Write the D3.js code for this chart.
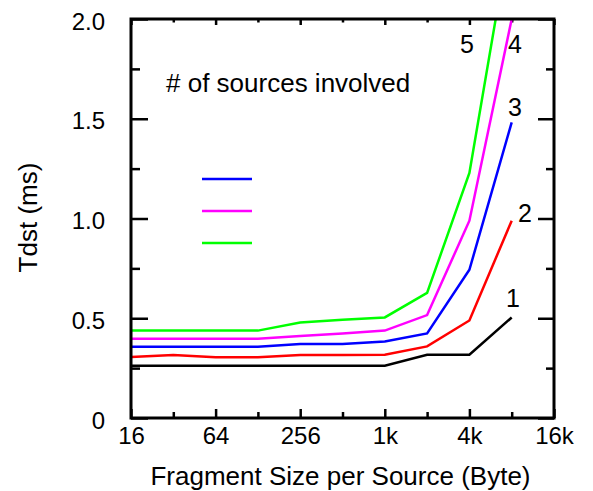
<!DOCTYPE html>
<html>
<head>
<meta charset="utf-8">
<script src="https://cdn.jsdelivr.net/npm/d3@7"></script>
<style>
  body { margin: 0; background: #fff; }
  svg text { font-family: "Liberation Sans", Arial, Helvetica, sans-serif; fill: #000; }
</style>
</head>
<body>
<svg id="chart" width="593" height="491"></svg>
<script>
// fragment size per source (bytes), log2 axis
const sizes = [16, 32, 64, 128, 256, 512, 1024, 2048, 4096, 8192];

// Tdst (ms) for 1..5 sources
const src1 = [0.262, 0.262, 0.262, 0.262, 0.262, 0.262, 0.262, 0.317, 0.317, 0.504];
const src2 = [0.306, 0.316, 0.304, 0.304, 0.316, 0.316, 0.317, 0.359, 0.489, 0.989];
const src3 = [0.357, 0.357, 0.357, 0.357, 0.371, 0.371, 0.384, 0.424, 0.743, 1.482];
const src4 = [0.397, 0.397, 0.397, 0.397, 0.411, 0.423, 0.438, 0.516, 0.989, 2.0];
const src5 = [0.438, 0.438, 0.438, 0.438, 0.479, 0.493, 0.504, 0.627, 1.228, 2.47];

const seriesNames = ["1", "2", "3", "4", "5"];
const seriesColors = ["#000000", "#ff0000", "#0000ff", "#ff00ff", "#00ff00"];

const xMajor = [16, 64, 256, 1024, 4096, 16384];
const xMajorLabels = ["16", "64", "256", "1k", "4k", "16k"];
const xMinor = [32, 128, 512, 2048, 8192];
const yMajor = [0, 0.5, 1.0, 1.5, 2.0];
const yMinor = [0.25, 0.75, 1.25, 1.75];

// legend shows only these (no text labels in the original)
const legendSeries = [2, 3, 4];

const svg = d3.select("#chart");
const pLeft = 131, pRight = 554, pTop = 19, pBottom = 418;

const x = d3.scaleLog().base(2).domain([16, 16384]).range([pLeft, pRight]);
const y = d3.scaleLinear().domain([0, 2]).range([pBottom, pTop]);

svg.append("defs").append("clipPath").attr("id", "plot-clip")
  .append("rect")
  .attr("x", pLeft).attr("y", pTop)
  .attr("width", pRight - pLeft).attr("height", pBottom - pTop);

// ---------- axes ----------
function styleAxis(g) {
  g.select(".domain").remove();
  g.selectAll(".tick line").attr("stroke", "#000").attr("stroke-width", 2.5);
  g.selectAll(".tick text").style("font-size", "24px");
}

svg.append("g")
  .attr("transform", `translate(0,${pBottom})`)
  .call(d3.axisBottom(x).tickValues(xMajor).tickSize(-9).tickPadding(9)
    .tickFormat((d, i) => xMajorLabels[i]))
  .call(styleAxis);

svg.append("g")
  .attr("transform", `translate(0,${pBottom})`)
  .call(d3.axisBottom(x).tickValues(xMinor).tickSize(-6).tickFormat(""))
  .call(styleAxis);

svg.append("g")
  .attr("transform", `translate(0,${pTop})`)
  .call(d3.axisTop(x).tickValues(xMajor).tickSize(-6).tickFormat(""))
  .call(styleAxis);

svg.append("g")
  .attr("transform", `translate(0,${pTop})`)
  .call(d3.axisTop(x).tickValues(xMinor).tickSize(-3.5).tickFormat(""))
  .call(styleAxis);

svg.append("g")
  .attr("transform", `translate(${pLeft},0)`)
  .call(d3.axisLeft(y).tickValues(yMajor).tickSize(-17).tickPadding(26)
    .tickFormat(d => d === 0 ? "0" : d3.format(".1f")(d)))
  .call(styleAxis)
  .selectAll(".tick text").attr("dy", "0.42em");

svg.append("g")
  .attr("transform", `translate(${pLeft},0)`)
  .call(d3.axisLeft(y).tickValues(yMinor).tickSize(-9).tickFormat(""))
  .call(styleAxis);

svg.append("g")
  .attr("transform", `translate(${pRight},0)`)
  .call(d3.axisRight(y).tickValues(yMajor).tickSize(-16).tickFormat(""))
  .call(styleAxis);

svg.append("g")
  .attr("transform", `translate(${pRight},0)`)
  .call(d3.axisRight(y).tickValues(yMinor).tickSize(-8).tickFormat(""))
  .call(styleAxis);

// ---------- lines ----------
const allSeries = [src1, src2, src3, src4, src5];
const line = d3.line()
  .x((d, i) => x(sizes[i]))
  .y(d => y(d));

svg.append("g")
  .attr("clip-path", "url(#plot-clip)")
  .selectAll("path")
  .data(allSeries)
  .enter()
  .append("path")
  .attr("d", line)
  .attr("fill", "none")
  .attr("stroke", (d, i) => seriesColors[i])
  .attr("stroke-width", 2.5)
  .attr("stroke-linejoin", "miter");

// frame
svg.append("rect")
  .attr("x", pLeft).attr("y", pTop)
  .attr("width", pRight - pLeft).attr("height", pBottom - pTop)
  .attr("fill", "none")
  .attr("stroke", "#000")
  .attr("stroke-width", 3);

// curve labels
const labelPos = [
  { x: 513, y: 307 },
  { x: 525, y: 222 },
  { x: 515, y: 116 },
  { x: 515, y: 53 },
  { x: 467, y: 53 }
];
svg.append("g")
  .selectAll("text")
  .data(seriesNames)
  .enter()
  .append("text")
  .attr("x", (d, i) => labelPos[i].x)
  .attr("y", (d, i) => labelPos[i].y)
  .attr("text-anchor", "middle")
  .style("font-size", "25px")
  .text(d => d);

// legend
svg.append("text")
  .attr("x", 166)
  .attr("y", 92)
  .style("font-size", "26px")
  .text("# of sources involved");

svg.append("g")
  .selectAll("line")
  .data(legendSeries)
  .enter()
  .append("line")
  .attr("x1", 202).attr("x2", 252)
  .attr("y1", (d, i) => 179 + i * 32)
  .attr("y2", (d, i) => 179 + i * 32)
  .attr("stroke", d => seriesColors[d])
  .attr("stroke-width", 2.5);

// axis titles
svg.append("text")
  .attr("x", (pLeft + pRight) / 2 - 2)
  .attr("y", 485)
  .attr("text-anchor", "middle")
  .style("font-size", "26px")
  .text("Fragment Size per Source (Byte)");

svg.append("text")
  .attr("transform", `translate(37,${(pTop + pBottom) / 2 - 1}) rotate(-90)`)
  .attr("text-anchor", "middle")
  .style("font-size", "26px")
  .text("Tdst (ms)");
</script>
</body>
</html>
